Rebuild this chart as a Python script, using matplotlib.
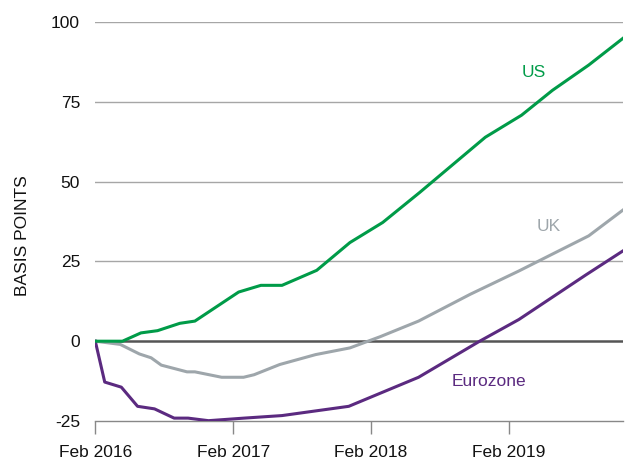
import matplotlib
matplotlib.use("Agg")
import matplotlib.pyplot as plt
import pandas as pd

# Data (basis points)
us_dates = ["2016-02-01", "2016-04-13", "2016-06-01", "2016-07-15", "2016-09-12",
            "2016-10-22", "2017-02-15", "2017-04-15", "2017-06-10", "2017-09-10",
            "2017-12-07", "2018-03-04", "2018-06-10", "2018-12-01", "2019-03-07",
            "2019-05-28", "2019-09-01", "2019-12-01"]
us_values = [0, 0, 2.6, 3.3, 5.6, 6.3, 15.4, 17.5, 17.5, 22.2,
             30.9, 37.2, 46.6, 63.9, 70.8, 78.6, 86.5, 94.9]

uk_dates = ["2016-02-01", "2016-04-07", "2016-05-28", "2016-06-28", "2016-07-25",
            "2016-10-01", "2016-10-22", "2017-01-01", "2017-02-28", "2017-03-28",
            "2017-06-04", "2017-09-07", "2017-12-07", "2018-02-25", "2018-06-07",
            "2018-10-22", "2019-02-28", "2019-05-28", "2019-09-01", "2019-12-01"]
uk_values = [0, -1, -4, -5.2, -7.5, -9.6, -9.6, -11.3, -11.3, -10.5,
             -7.3, -4.2, -2.1, 1.4, 6.3, 14.7, 22, 27.3, 33, 41.1]

ez_dates = ["2016-02-01", "2016-02-26", "2016-04-10", "2016-05-23", "2016-07-07",
            "2016-08-28", "2016-10-04", "2016-11-27", "2017-03-01", "2017-06-10",
            "2017-12-04", "2018-06-07", "2018-11-16", "2019-02-28", "2019-08-25",
            "2019-12-01"]
ez_values = [0, -12.8, -14.4, -20.4, -21.2, -24.1, -24.1, -24.9, -24.1, -23.3,
             -20.4, -11.3, 0, 6.8, 20.8, 28.3]

tick_dates = ["2016-02-01", "2017-02-01", "2018-02-01", "2019-02-01"]
tick_labels = ["Feb 2016", "Feb 2017", "Feb 2018", "Feb 2019"]
y_ticks = [-25, 0, 25, 50, 75, 100]

green = "#009b48"
grey = "#9ea6ab"
purple = "#5b2a80"
grid_grey = "#a6a6a6"
fs = 12.5

plt.rcParams["font.family"] = ["Liberation Sans", "DejaVu Sans"]

fig = plt.figure(figsize=(6.25, 4.59), dpi=100)
ax = fig.add_axes([95.3 / 625, 1 - 421 / 459, (623 - 95.3) / 625, (421 - 22) / 459])

for y in [25, 50, 75, 100]:
    ax.axhline(y, color=grid_grey, lw=1.0, zorder=1)
ax.axhline(0, color="#555555", lw=1.8, zorder=1)

ax.plot(pd.to_datetime(uk_dates), uk_values, color=grey, lw=2.2, zorder=3)
ax.plot(pd.to_datetime(ez_dates), ez_values, color=purple, lw=2.2, zorder=3)
ax.plot(pd.to_datetime(us_dates), us_values, color=green, lw=2.2, zorder=3)

ax.set_xlim(pd.Timestamp("2016-02-01"), pd.Timestamp("2019-12-01"))
ax.set_ylim(-25, 100)

ax.set_xticks(pd.to_datetime(tick_dates))
ax.set_xticklabels(tick_labels)
ax.set_yticks(y_ticks)
ax.set_yticklabels([str(v) for v in y_ticks])

for side in ["top", "right", "left"]:
    ax.spines[side].set_visible(False)
ax.spines["bottom"].set_color("#888888")
ax.spines["bottom"].set_linewidth(1.0)
ax.spines["bottom"].set_zorder(2)

ax.tick_params(axis="x", length=9, width=1.0, color="#888888", pad=8,
               labelsize=fs, labelcolor="#111111")
ax.tick_params(axis="y", length=0, pad=11, labelsize=fs, labelcolor="#111111")

fig.text(23 / 625, 1 - 236 / 459, "BASIS POINTS", rotation=90, ha="center",
         va="center", fontsize=fs, color="#111111")

ax.text(pd.Timestamp("2019-04-08"), 84.3, "US", color=green, fontsize=fs,
        ha="center", va="center")
ax.text(pd.Timestamp("2019-05-19"), 35.8, "UK", color=grey, fontsize=fs,
        ha="center", va="center")
ax.text(pd.Timestamp("2018-12-10"), -12.6, "Eurozone", color=purple, fontsize=fs,
        ha="center", va="center")

fig.savefig("out.png", dpi=100)
